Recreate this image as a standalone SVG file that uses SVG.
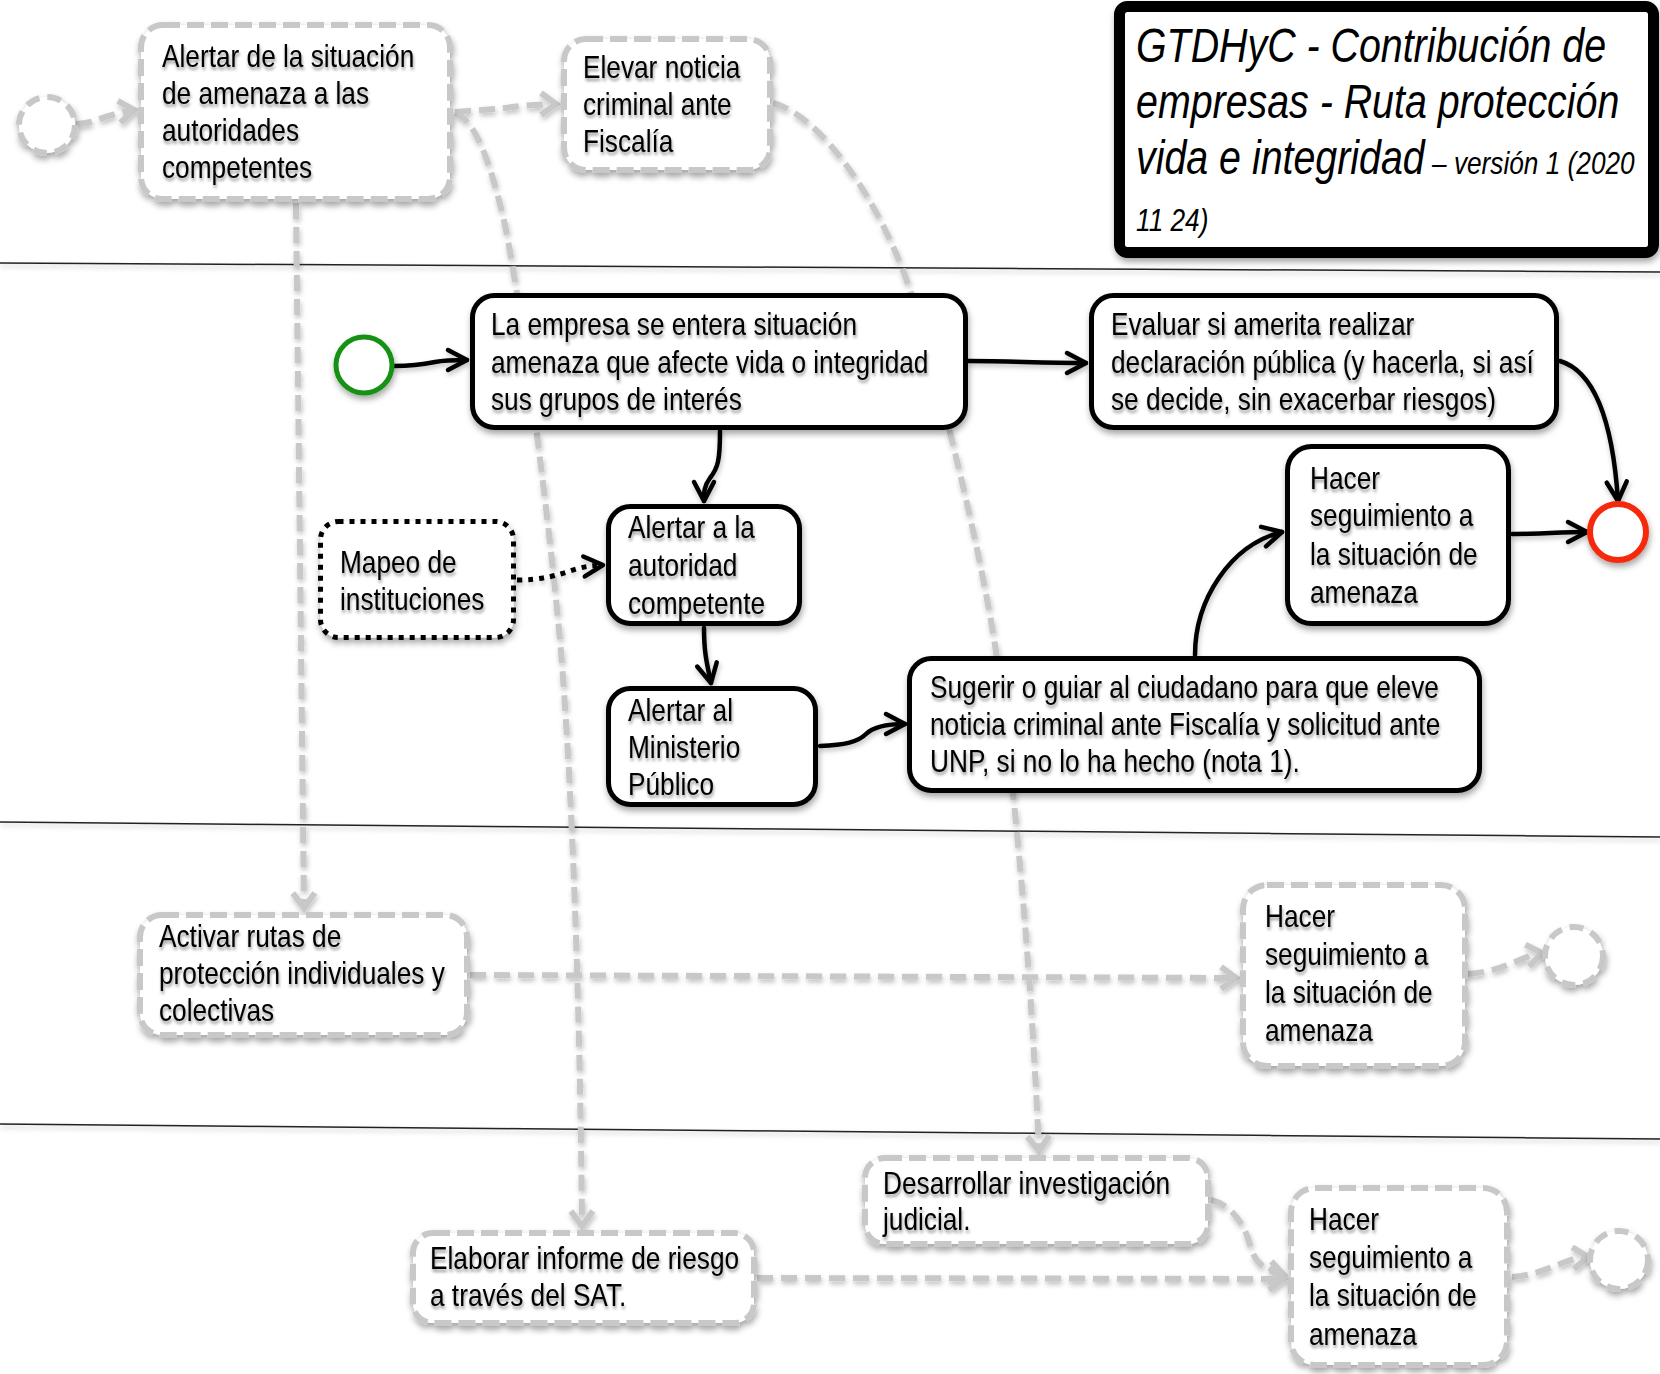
<svg xmlns="http://www.w3.org/2000/svg" width="1660" height="1374" viewBox="0 0 1660 1374">
<defs>
<style>
.t{font-family:"Liberation Sans",Arial,sans-serif;font-size:32px;fill:#000;}
.tt{font-family:"Liberation Sans",Arial,sans-serif;font-size:48px;font-style:italic;fill:#000;}
.box{fill:#fff;stroke:#000;stroke-width:5;}
.gbox{fill:#fff;stroke:#c8c8c8;stroke-width:6;stroke-dasharray:17 7;}
.dbox{fill:#fff;stroke:#000;stroke-width:5;stroke-dasharray:5 6;}
.gcirc{fill:#fff;stroke:#c8c8c8;stroke-width:6;stroke-dasharray:14 8;}
.bc{fill:none;stroke:#000;stroke-width:4.5;stroke-linecap:round;marker-end:url(#ab);}
.dc{fill:none;stroke:#000;stroke-width:5;stroke-dasharray:5 6;marker-end:url(#ab);}
.gc{fill:none;stroke:#c8c8c8;stroke-width:6;stroke-dasharray:16 8;marker-end:url(#ag);}
.lane{stroke:#222;stroke-width:1.5;fill:none;}
</style>
<filter id="sh" filterUnits="userSpaceOnUse" x="-20" y="-20" width="1700" height="1420">
<feDropShadow dx="1" dy="4" stdDeviation="3" flood-color="#000" flood-opacity="0.35"/>
</filter>
<filter id="shl" filterUnits="userSpaceOnUse" x="-20" y="-20" width="1700" height="1420">
<feDropShadow dx="1" dy="3" stdDeviation="2.5" flood-color="#000" flood-opacity="0.25"/>
</filter>
<filter id="tsh" x="-5%" y="-10%" width="110%" height="130%">
<feDropShadow dx="1" dy="3" stdDeviation="1.8" flood-color="#000" flood-opacity="0.4"/>
</filter>
<marker id="ab" markerUnits="userSpaceOnUse" viewBox="-24 -14 28 28" refX="0" refY="0" markerWidth="28" markerHeight="28" orient="auto" overflow="visible">
<path d="M-19,-10 L0,0 L-19,10" fill="none" stroke="#000" stroke-width="4.5" stroke-linecap="round" stroke-linejoin="round"/>
</marker>
<marker id="ag" markerUnits="userSpaceOnUse" viewBox="-24 -14 28 28" refX="0" refY="0" markerWidth="28" markerHeight="28" orient="auto" overflow="visible">
<path d="M-15,-11 L0,0 L-15,11" fill="none" stroke="#c8c8c8" stroke-width="6" stroke-linejoin="miter"/>
</marker>
</defs>
<rect x="0" y="0" width="1660" height="1374" fill="#fff"/>

<g id="lanes" filter="url(#shl)">
<line class="lane" x1="0" y1="263" x2="1660" y2="272"/>
<line class="lane" x1="0" y1="822" x2="1660" y2="837"/>
<line class="lane" x1="0" y1="1124" x2="1660" y2="1139"/>
</g>

<g id="connectors" filter="url(#shl)">
<path class="gc" d="M76,124 C92,124 100,118 112,115 S126,111 134,110"/>
<path class="gc" d="M455,112 C475,110 490,110 505,108 S540,104 556,104"/>
<path class="gc" d="M455,113 C475,120 490,160 505,225 C520,300 545,480 560,640 C572,780 580,1000 582,1226"/>
<path class="gc" d="M773,103 C820,115 880,200 910,290 C935,365 985,560 1000,680 C1015,800 1030,950 1039,1151"/>
<path class="gc" d="M296,203 L304,908"/>
<path class="gc" d="M470,975 L1236,978"/>
<path class="gc" d="M1468,974 C1490,972 1500,968 1515,962 S1530,955 1542,953"/>
<path class="gc" d="M757,1278 L1284,1279"/>
<path class="gc" d="M1211,1200 C1232,1205 1245,1225 1250,1245 C1255,1265 1268,1272 1284,1275"/>
<path class="gc" d="M1512,1277 C1530,1276 1545,1270 1560,1264 S1575,1258 1588,1257"/>
<path class="bc" d="M394,366 C415,366 425,364 435,362 S455,360 467,360"/>
<path class="bc" d="M968,361 C1010,361 1040,363 1086,363"/>
<path class="bc" d="M1560,361 C1590,370 1612,410 1618,501"/>
<path class="bc" d="M720,431 C720,460 718,468 710,478 C704,486 704,492 704,501"/>
<path class="dc" d="M517,580 C540,580 555,576 570,571 S590,566 603,565"/>
<path class="bc" d="M704,628 C704,650 706,660 711,683"/>
<path class="bc" d="M820,746 C845,745 858,742 866,734 C874,726 890,724 905,724"/>
<path class="bc" d="M1195,655 C1195,600 1230,545 1282,532"/>
<path class="bc" d="M1512,534 C1540,534 1560,532 1587,532"/>
</g>

<g id="start-1"><circle class="gcirc" cx="47" cy="125" r="28" filter="url(#sh)"/></g>

<g id="n-alertar-situacion">
<rect class="gbox" x="141" y="25" width="309" height="174" rx="22" filter="url(#sh)"/>
<text class="t" transform="matrix(.82 0 0 1 162 0)" filter="url(#tsh)"><tspan x="0" y="67">Alertar de la situación</tspan><tspan x="0" y="104">de amenaza a las</tspan><tspan x="0" y="141">autoridades</tspan><tspan x="0" y="178">competentes</tspan></text>
</g>

<g id="n-elevar">
<rect class="gbox" x="564" y="39" width="206" height="131" rx="22" filter="url(#sh)"/>
<text class="t" transform="matrix(.82 0 0 1 583 0)" filter="url(#tsh)"><tspan x="0" y="78">Elevar noticia</tspan><tspan x="0" y="115">criminal ante</tspan><tspan x="0" y="152">Fiscalía</tspan></text>
</g>

<g id="title">
<rect x="1119.5" y="6.5" width="534" height="246" rx="8" fill="#fff" stroke="#000" stroke-width="11" filter="url(#sh)"/>
<text class="tt" transform="matrix(.82 0 0 1 1136 0)"><tspan x="0" y="62">GTDHyC - Contribución de</tspan><tspan x="0" y="118">empresas - Ruta protección</tspan><tspan x="0" y="174">vida e integridad<tspan font-size="32"> – versión 1 (2020</tspan></tspan><tspan x="0" y="231" font-size="32">11 24)</tspan></text>
</g>

<g id="start-green"><circle cx="364" cy="365" r="28" fill="#fff" stroke="#139113" stroke-width="5" filter="url(#sh)"/></g>

<g id="n-empresa">
<rect class="box" x="472.5" y="295.5" width="493" height="132" rx="22" filter="url(#sh)"/>
<text class="t" transform="matrix(.82 0 0 1 491 0)" filter="url(#tsh)"><tspan x="0" y="335">La empresa se entera situación</tspan><tspan x="0" y="373">amenaza que afecte vida o integridad</tspan><tspan x="0" y="410">sus grupos de interés</tspan></text>
</g>

<g id="n-evaluar">
<rect class="box" x="1091.5" y="295.5" width="465" height="132" rx="22" filter="url(#sh)"/>
<text class="t" transform="matrix(.82 0 0 1 1111 0)" filter="url(#tsh)"><tspan x="0" y="335">Evaluar si amerita realizar</tspan><tspan x="0" y="373">declaración pública (y hacerla, si así</tspan><tspan x="0" y="410">se decide, sin exacerbar riesgos)</tspan></text>
</g>

<g id="n-mapeo">
<rect class="dbox" x="320.5" y="521.5" width="193" height="116" rx="18" filter="url(#sh)"/>
<text class="t" transform="matrix(.82 0 0 1 340 0)" filter="url(#tsh)"><tspan x="0" y="573">Mapeo de</tspan><tspan x="0" y="610">instituciones</tspan></text>
</g>

<g id="n-alertar-autoridad">
<rect class="box" x="608.5" y="506.5" width="191" height="117" rx="22" filter="url(#sh)"/>
<text class="t" transform="matrix(.82 0 0 1 628 0)" filter="url(#tsh)"><tspan x="0" y="538">Alertar a la</tspan><tspan x="0" y="576">autoridad</tspan><tspan x="0" y="614">competente</tspan></text>
</g>

<g id="n-ministerio">
<rect class="box" x="608.5" y="688.5" width="207" height="116" rx="22" filter="url(#sh)"/>
<text class="t" transform="matrix(.82 0 0 1 628 0)" filter="url(#tsh)"><tspan x="0" y="721">Alertar al</tspan><tspan x="0" y="758">Ministerio</tspan><tspan x="0" y="795">Público</tspan></text>
</g>

<g id="n-sugerir">
<rect class="box" x="909.5" y="658.5" width="570" height="132" rx="22" filter="url(#sh)"/>
<text class="t" transform="matrix(.82 0 0 1 930 0)" filter="url(#tsh)"><tspan x="0" y="698">Sugerir o guiar al ciudadano para que eleve</tspan><tspan x="0" y="735">noticia criminal ante Fiscalía y solicitud ante</tspan><tspan x="0" y="772">UNP, si no lo ha hecho (nota 1).</tspan></text>
</g>

<g id="n-hacer-1">
<rect class="box" x="1287.5" y="446.5" width="221" height="177" rx="24" filter="url(#sh)"/>
<text class="t" transform="matrix(.82 0 0 1 1310 0)" filter="url(#tsh)"><tspan x="0" y="489">Hacer</tspan><tspan x="0" y="526">seguimiento a</tspan><tspan x="0" y="565">la situación de</tspan><tspan x="0" y="603">amenaza</tspan></text>
</g>

<g id="end-red"><circle cx="1618" cy="532" r="28" fill="#fff" stroke="#f52a0a" stroke-width="6" filter="url(#sh)"/></g>

<g id="n-activar">
<rect class="gbox" x="140" y="915" width="327" height="120" rx="22" filter="url(#sh)"/>
<text class="t" transform="matrix(.82 0 0 1 159 0)" filter="url(#tsh)"><tspan x="0" y="947">Activar rutas de</tspan><tspan x="0" y="984">protección individuales y</tspan><tspan x="0" y="1021">colectivas</tspan></text>
</g>

<g id="n-hacer-2">
<rect class="gbox" x="1243" y="885" width="222" height="181" rx="24" filter="url(#sh)"/>
<text class="t" transform="matrix(.82 0 0 1 1265 0)" filter="url(#tsh)"><tspan x="0" y="927">Hacer</tspan><tspan x="0" y="965">seguimiento a</tspan><tspan x="0" y="1003">la situación de</tspan><tspan x="0" y="1041">amenaza</tspan></text>
</g>

<g id="end-2"><circle class="gcirc" cx="1574" cy="956" r="29" filter="url(#sh)"/></g>

<g id="n-desarrollar">
<rect class="gbox" x="865" y="1158" width="343" height="86" rx="20" filter="url(#sh)"/>
<text class="t" transform="matrix(.82 0 0 1 883 0)" filter="url(#tsh)"><tspan x="0" y="1194">Desarrollar investigación</tspan><tspan x="0" y="1230">judicial.</tspan></text>
</g>

<g id="n-elaborar">
<rect class="gbox" x="413" y="1233" width="341" height="90" rx="20" filter="url(#sh)"/>
<text class="t" transform="matrix(.82 0 0 1 430 0)" filter="url(#tsh)"><tspan x="0" y="1269">Elaborar informe de riesgo</tspan><tspan x="0" y="1306">a través del SAT.</tspan></text>
</g>

<g id="n-hacer-3">
<rect class="gbox" x="1291" y="1188" width="216" height="177" rx="24" filter="url(#sh)"/>
<text class="t" transform="matrix(.82 0 0 1 1309 0)" filter="url(#tsh)"><tspan x="0" y="1230">Hacer</tspan><tspan x="0" y="1268">seguimiento a</tspan><tspan x="0" y="1306">la situación de</tspan><tspan x="0" y="1345">amenaza</tspan></text>
</g>

<g id="end-3"><circle class="gcirc" cx="1619" cy="1260" r="29" filter="url(#sh)"/></g>
</svg>
